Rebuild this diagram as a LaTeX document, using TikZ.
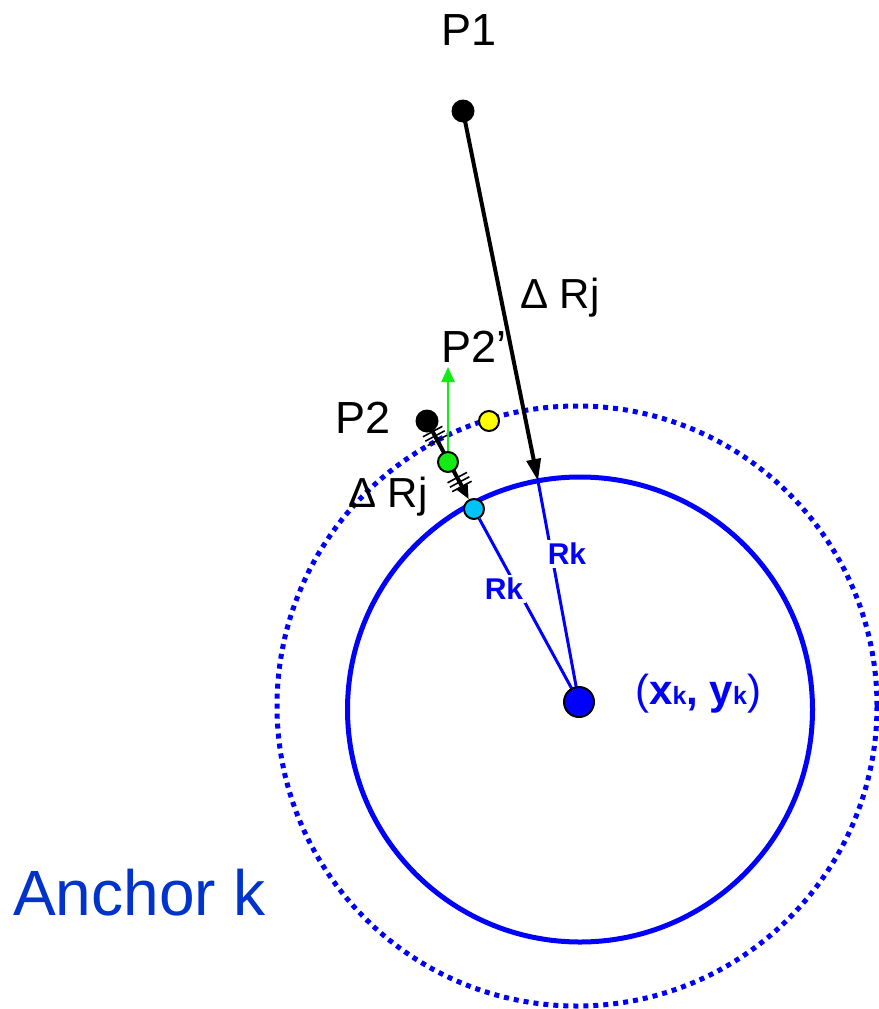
\documentclass[tikz,border=0pt]{standalone}
\usepackage{fontspec}
\setmainfont{Liberation Sans}
\usetikzlibrary{arrows.meta,calc}
\pgfdeclarelayer{bg}
\pgfsetlayers{bg,main}
\definecolor{kblue}{RGB}{0,0,255}
\definecolor{ablue}{RGB}{0,51,204}
\definecolor{kgreen}{RGB}{20,235,20}
\definecolor{kcyan}{RGB}{0,195,250}
\definecolor{kyellow}{RGB}{255,255,0}
\begin{document}
\begin{tikzpicture}[x=1pt,y=-1pt,
  dot/.style={circle, draw=black, line width=2pt, inner sep=0pt, minimum size=#1},
  bdot/.style={circle, fill=black, inner sep=0pt, minimum size=#1},
  lbl/.style={inner sep=0pt, anchor=base west, font=\fontsize{45}{45}\selectfont},
  dlbl/.style={inner sep=0pt, anchor=base west, font=\fontsize{42}{42}\selectfont},
  rlbl/.style={inner sep=3pt, fill=white, text=kblue, font=\fontsize{30}{30}\selectfont\bfseries},
]
\useasboundingbox (0,0) rectangle (878,1009);

% centres
\coordinate (C) at (580,709.5);
\coordinate (Cd) at (577,706);
\coordinate (ar) at (538,481);
\coordinate (gt) at (448,367);

% points
\node[bdot=23pt] (p1) at (463,111) {};
\node[bdot=23pt] (p2) at (427,421) {};
\node[dot=20pt, fill=kgreen] (g) at (448,462) {};
\node[dot=20pt, fill=kcyan] (cy) at (474,509) {};
\node[dot=20pt, fill=kyellow] (yl) at (489,421) {};
\node[dot=30pt, fill=kblue] (ctr) at (579,702) {};

\begin{pgfonlayer}{bg}
  \draw[kblue, line width=5pt] (C) circle[radius=232.5];
  \draw[kblue, line width=5pt, dash pattern=on 5pt off 5pt] (Cd) circle[radius=300];
  \draw[kblue, line width=3pt] (ar) -- (ctr.center);
  \draw[kblue, line width=3pt] (cy) -- (ctr.center);
  \draw[line width=4pt, -{Triangle[length=22pt,width=14pt]}] (p1.center) -- (ar);
  \draw[line width=4pt, -{Triangle[length=15pt,width=12pt]}] (p2.center) -- (cy);
  \draw[kgreen, line width=2.5pt, -{Triangle[length=15pt,width=13pt]}] (g.center) -- (gt);
  \foreach \mx/\my in {435/436, 459.6/482}{
    \foreach \s in {-5,0,5}{
      \draw[line width=1.6pt] (\mx+\s*0.471-9.7, \my+\s*0.882+5.2) -- (\mx+\s*0.471+9.7, \my+\s*0.882-5.2);
    }
  }
\end{pgfonlayer}

% labels
\node[lbl] (tp1) at (441,45) {P1};
\node[lbl] (tp2a) at (441,362) {P2’};
\node[lbl] (tp2) at (335,433) {P2};
\node[dlbl] (tdr1) at (520,308) {Δ Rj};
\node[dlbl] (tdr2) at (348,507) {Δ Rj};
\node[rlbl] (rk1) at (567,554) {Rk};
\node[rlbl] (rk2) at (504,589) {Rk};
\node[inner sep=0pt, anchor=base west, text=kblue, font=\fontsize{42}{42}\selectfont] (xy) at (635,704)
  {({\bfseries x{\fontsize{25}{25}\selectfont k}, y{\fontsize{25}{25}\selectfont k}})};
\node[inner sep=0pt, anchor=base west, text=ablue, font=\fontsize{64}{64}\selectfont] (anc) at (13,915) {Anchor k};
\end{tikzpicture}
\end{document}
